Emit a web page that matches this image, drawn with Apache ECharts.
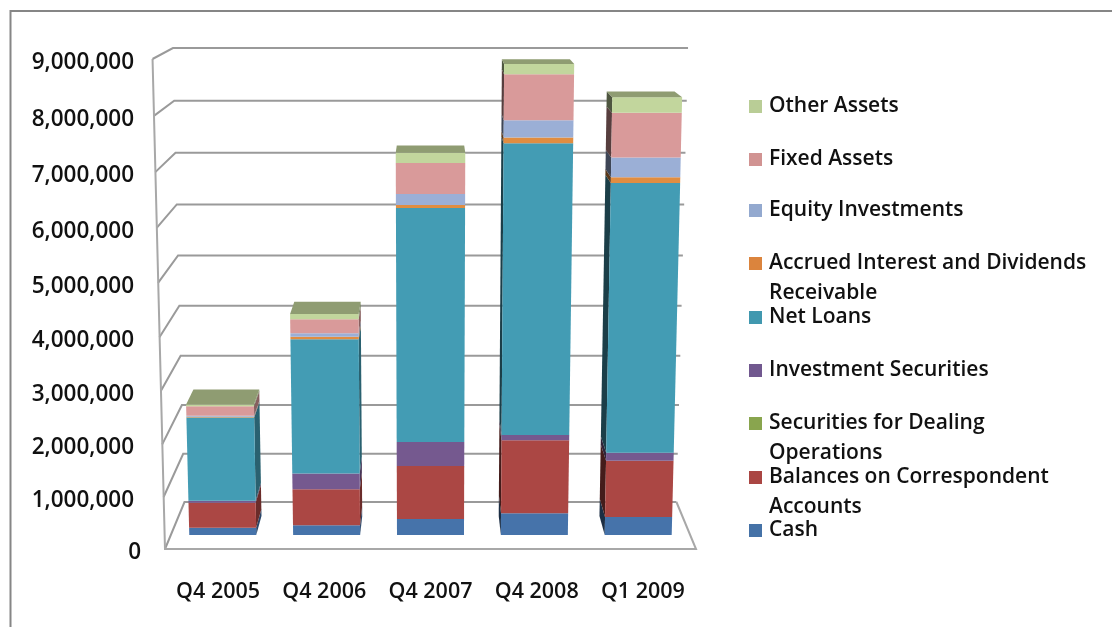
<!DOCTYPE html>
<html>
<head>
<meta charset="utf-8">
<style>
  html, body { margin: 0; padding: 0; background: #fff; }
  #chart { width: 1112px; height: 627px; }
</style>
<script src="https://cdn.jsdelivr.net/npm/echarts@6/dist/echarts.min.js"></script>
</head>
<body>
<div id="chart"></div>
<script>
// Balance sheet asset composition, in thousands of the reporting currency.
const categories = ['Q4 2005', 'Q4 2006', 'Q4 2007', 'Q4 2008', 'Q1 2009'];
const cash = [142000, 189000, 313000, 425000, 353000];
const balances = [491000, 707000, 1037000, 1428000, 1099000];
const dealing = [0, 0, 0, 0, 0];
const investments = [39000, 311000, 465000, 98000, 155000];
const netLoans = [1620000, 2576000, 4422000, 5471000, 5090000];
const accrued = [15000, 48000, 55000, 102000, 104000];
const equity = [16000, 65000, 203000, 315000, 359000];
const fixedAssets = [186000, 265000, 568000, 829000, 816000];
const otherAssets = [33000, 100000, 183000, 184000, 279000];
const yTicks = [0, 1000000, 2000000, 3000000, 4000000, 5000000, 6000000, 7000000, 8000000, 9000000];

const seriesNames = ['Cash', 'Balances on Correspondent Accounts', 'Securities for Dealing Operations',
  'Investment Securities', 'Net Loans', 'Accrued Interest and Dividends Receivable',
  'Equity Investments', 'Fixed Assets', 'Other Assets'];
const seriesValues = [cash, balances, dealing, investments, netLoans, accrued, equity, fixedAssets, otherAssets];
const faceColors = ['#4673aa', '#ab4744', '#8aa650', '#75598f', '#439cb4', '#e08d41', '#9bafd6', '#d99a9a', '#c2d69d'];
const swatchColors = ['#4572a7', '#aa4643', '#89a54e', '#71588f', '#4198af', '#db843d', '#93a9cf', '#d19392', '#b9cd96'];

// Legend rows: first line of each label, plus the wrapped second line where there is one.
const legendOrder = [8, 7, 6, 5, 4, 3, 2, 1, 0];
const legendFirstLines = {
  5: 'Accrued Interest and Dividends',
  2: 'Securities for Dealing',
  1: 'Balances on Correspondent'
};
const legendSecondLines = [
  { text: 'Receivable', y: 293 },
  { text: 'Operations', y: 453 },
  { text: 'Accounts', y: 507 }
];
const legendRowY = [104, 157, 208, 261, 315, 368, 421, 475, 528];

const FONT = '"Open Sans", sans-serif';
const LEGEND_SIZE = 21;
const CATEGORY_SIZE = 21.5;
const VALUE_SIZE = 22.5;
const GRID = { left: 165, right: 696, top: 59, bottom: 549 };

// Camera model of the 3-D box: depth t runs 0 (front of floor) to 1 (back wall).
const CENTER_X = 430;
const HORIZON_Y = -90.5;
const DEPTH_SHRINK = 0.0735;
const KEYSTONE = 0.047;   // walls lean outward with height
const FORESHORTEN = 0.05; // upper part of the wall is stretched slightly
const BAR_DEPTH = [0.3, 0.7];
const BAR_SHARE = 0.645;

function project(p, t) {
  const span = GRID.bottom - GRID.top;
  const h = (GRID.bottom - p[1]) / span;
  const yFront = p[1] + span * FORESHORTEN * h * (1 - h);
  const d = 1 - DEPTH_SHRINK * t;
  return [
    CENTER_X + (p[0] - CENTER_X) * d * (1 + KEYSTONE * h),
    HORIZON_Y + (yFront - HORIZON_Y) * d
  ];
}

function polygon(points, fill) {
  return { type: 'polygon', shape: { points }, style: { fill, stroke: null }, silent: true };
}

function shade(hex, factor) {
  const rgb = echarts.color.parse(hex);
  return 'rgb(' + rgb.slice(0, 3).map((c) => Math.round(c * factor)).join(',') + ')';
}

// One stacked segment: visible side wall, front face, and the lid on the top series.
function barSegment(seriesIndex) {
  return function (params, api) {
    const catIdx = api.value(0);
    const low = api.value(1);
    const high = api.value(2);
    const band = api.size([1, 0])[0];
    const cx = api.coord([catIdx, 0])[0];
    const left = cx - band * BAR_SHARE / 2;
    const right = cx + band * BAR_SHARE / 2;
    const yLow = api.coord([catIdx, low])[1];
    const yHigh = api.coord([catIdx, high])[1];
    const [t0, t1] = BAR_DEPTH;
    const fill = faceColors[seriesIndex];
    const children = [];
    if (high > low) {
      if (right < CENTER_X) {
        children.push(polygon([
          project([right, yLow], t0), project([right, yLow], t1),
          project([right, yHigh], t1), project([right, yHigh], t0)
        ], shade(fill, 0.62)));
      } else if (left > CENTER_X) {
        children.push(polygon([
          project([left, yLow], t0), project([left, yLow], t1),
          project([left, yHigh], t1), project([left, yHigh], t0)
        ], shade(fill, 0.4)));
      }
      children.push(polygon([
        project([left, yLow], t0), project([right, yLow], t0),
        project([right, yHigh], t0), project([left, yHigh], t0)
      ], fill));
    }
    if (seriesIndex === seriesValues.length - 1) {
      children.push(polygon([
        project([left, yHigh], t0), project([right, yHigh], t0),
        project([right, yHigh], t1), project([left, yHigh], t1)
      ], '#8f9c72'));
    }
    return { type: 'group', children };
  };
}

// Gridlines wrap from the front-left edge, along the side wall, across the back wall.
function wallLine(params, api) {
  const value = api.value(0);
  const y = api.coord([0, value])[1];
  const l = api.coord([0, value])[0];
  const r = api.coord([categories.length, value])[0];
  const children = [{
    type: 'polyline',
    shape: { points: [project([l, y], 0), project([l, y], 1), project([r, y], 1)] },
    style: { stroke: '#9a9a9a', lineWidth: 2, fill: null },
    silent: true
  }];
  const labelPos = project([l, y], 0);
  children.push({
    type: 'text',
    style: {
      x: value === 0 ? 141 : 134,
      y: labelPos[1] + 3.5,
      text: echarts.format.addCommas(value),
      font: '600 ' + VALUE_SIZE + 'px ' + FONT,
      fill: '#111',
      align: 'right',
      verticalAlign: 'middle'
    },
    silent: true
  });
  return { type: 'group', children };
}

// Front edge of the side wall, front edge of the floor, and the floor's right side.
function boxEdges(params, api) {
  const top = yTicks[yTicks.length - 1];
  const l0 = api.coord([0, 0]);
  const r0 = api.coord([categories.length, 0]);
  const l9 = api.coord([0, top]);
  return {
    type: 'group',
    children: [
      { type: 'polyline', silent: true, style: { stroke: '#a8a8a8', lineWidth: 2, fill: null },
        shape: { points: [project(l9, 0), project(l0, 0), project(r0, 0), project(r0, 1)] } }
    ]
  };
}

let running = categories.map(() => 0);
const barSeries = seriesNames.map((name, i) => {
  const rows = seriesValues[i].map((v, c) => {
    const row = [c, running[c], running[c] + v];
    running[c] += v;
    return row;
  });
  return {
    type: 'custom',
    name,
    z: 3 + i,
    clip: false,
    itemStyle: { color: swatchColors[i] },
    encode: { x: 0, y: 2 },
    renderItem: barSegment(i),
    data: rows
  };
});

const legends = legendOrder.map((idx, row) => ({
  show: true,
  orient: 'vertical',
  left: 749,
  top: legendRowY[row] - 8,
  padding: 0,
  itemWidth: 13,
  itemHeight: 13,
  itemGap: 0,
  icon: 'rect',
  data: [seriesNames[idx]],
  selectedMode: false,
  formatter: () => legendFirstLines[idx] || seriesNames[idx],
  textStyle: { fontFamily: FONT, fontSize: LEGEND_SIZE, fontWeight: 600, color: '#111', padding: [0, 0, 0, 2] }
}));

const chart = echarts.init(document.getElementById('chart'), null, { renderer: 'canvas' });
chart.setOption({
  animation: false,
  backgroundColor: '#ffffff',
  grid: { left: GRID.left, top: GRID.top, width: GRID.right - GRID.left, height: GRID.bottom - GRID.top },
  legend: legends,
  xAxis: [
    {
      type: 'category',
      data: categories,
      axisLine: { show: false },
      axisTick: { show: false },
      axisLabel: { interval: 0, hideOverlap: false, margin: 32, fontFamily: FONT, fontSize: CATEGORY_SIZE, fontWeight: 600, color: '#111' }
    },
    { type: 'value', min: 0, max: categories.length, show: false }
  ],
  yAxis: {
    type: 'value',
    min: 0,
    max: 9000000,
    interval: 1000000,
    axisLine: { show: false },
    axisTick: { show: false },
    axisLabel: { show: false },
    splitLine: { show: false }
  },
  graphic: [
    { type: 'polyline', silent: true, shape: { points: [[10.5, 627], [10.5, 11], [1112, 11]] },
      style: { stroke: '#868686', lineWidth: 2, fill: null } }
  ].concat(legendSecondLines.map((l) => ({
    type: 'text',
    silent: true,
    style: { x: 769, y: l.y, text: l.text, font: '600 ' + LEGEND_SIZE + 'px ' + FONT, fill: '#111', verticalAlign: 'middle' }
  }))),
  series: [
    { type: 'custom', name: 'walls', xAxisIndex: 1, z: 1, clip: false, silent: true,
      renderItem: wallLine, encode: { y: 0 }, data: yTicks.map((v) => [v]) },
    { type: 'custom', name: 'edges', xAxisIndex: 1, z: 2, clip: false, silent: true,
      renderItem: boxEdges, encode: { y: 0 }, data: [[0]] }
  ].concat(barSeries)
});
</script>
</body>
</html>
